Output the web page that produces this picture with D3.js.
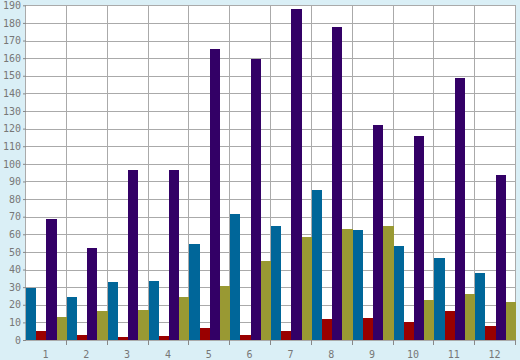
<!DOCTYPE html>
<html>
<head>
<meta charset="utf-8">
<script src="https://cdn.jsdelivr.net/npm/d3@7"></script>
<style>
html,body{margin:0;padding:0;background:#daeff6;}
svg{display:block;}
</style>
</head>
<body>
<svg id="chart" width="520" height="360"></svg>
<script>
const categories = ["1","2","3","4","5","6","7","8","9","10","11","12"];
const seriesNames = ["A","B","C","D"];
const seriesColors = ["#006699","#990000","#330066","#999933"];
const blueValues   = [29.7, 24.4, 32.9, 33.5, 54.5, 71.5, 64.7, 85.1, 62.4, 53.3, 46.5, 38.0];
const redValues    = [5.3, 2.8, 1.7, 2.3, 6.8, 2.8, 5.1, 11.9, 12.5, 10.2, 16.4, 8.0];
const purpleValues = [68.6, 52.2, 96.4, 96.4, 165.1, 159.4, 187.7, 177.5, 122.0, 115.7, 148.6, 93.6];
const oliveValues  = [13.0, 16.4, 17.0, 24.4, 30.6, 44.8, 58.4, 63.0, 64.7, 22.7, 26.1, 21.6];
const yTicks = d3.range(0, 191, 10);

const seriesValues = [blueValues, redValues, purpleValues, oliveValues];

const svg = d3.select("#chart");
const m = {left: 26, right: 4, top: 5.3, bottom: 20};
const W = 520, H = 360;
const x0 = W - m.right;
const y0 = H - m.bottom;

const x = d3.scaleBand().domain(categories).range([m.left, x0]).padding(0);
const xs = d3.scaleBand().domain(seriesNames).range([0, x.bandwidth()]).padding(0);
const y = d3.scaleLinear().domain([0, 190]).range([y0, m.top]);

// plot background
svg.append("rect").attr("x", m.left).attr("y", m.top)
  .attr("width", x0 - m.left).attr("height", y0 - m.top).attr("fill", "#ffffff");

// horizontal grid
svg.append("g").selectAll("line").data(yTicks).join("line")
  .attr("x1", m.left).attr("x2", x0)
  .attr("y1", d => Math.round(y(d)) + 0.5).attr("y2", d => Math.round(y(d)) + 0.5)
  .attr("stroke", "#aaaaaa").attr("stroke-width", 1);

// vertical grid at category boundaries
const bounds = categories.map(c => x(c)).concat([x0]);
svg.append("g").selectAll("line").data(bounds).join("line")
  .attr("x1", d => Math.round(d) - 0.5).attr("x2", d => Math.round(d) - 0.5)
  .attr("y1", m.top).attr("y2", y0)
  .attr("stroke", "#aaaaaa").attr("stroke-width", 1);

// bars
const g = svg.append("g");
categories.forEach((c, i) => {
  seriesNames.forEach((s, j) => {
    const v = seriesValues[j][i];
    g.append("rect")
      .attr("x", x(c) + xs(s))
      .attr("width", xs.bandwidth())
      .attr("y", y(v))
      .attr("height", y(0) - y(v))
      .attr("fill", seriesColors[j])
      .attr("shape-rendering", "crispEdges");
  });
});

// y axis
const yAxis = d3.axisLeft(y).tickValues(yTicks).tickSize(3).tickPadding(2).tickFormat(d3.format("d"));
const ya = svg.append("g").attr("transform", `translate(${m.left},0)`).call(yAxis);
ya.select(".domain").remove();
ya.selectAll(".tick line").attr("stroke", "#888888");
ya.selectAll("text").attr("fill", "#777777")
  .style("font-family", "DejaVu Sans Mono, monospace").style("font-size", "10px");

// x axis ticks at boundaries
svg.append("g").selectAll("line").data(bounds.slice(1)).join("line")
  .attr("x1", d => Math.round(d) - 0.5).attr("x2", d => Math.round(d) - 0.5)
  .attr("y1", y0).attr("y2", y0 + 5)
  .attr("stroke", "#888888");

// x labels
svg.append("g").selectAll("text").data(categories).join("text")
  .attr("x", d => x(d) + x.bandwidth() / 2 - 1)
  .attr("y", y0 + 17.5)
  .attr("text-anchor", "middle")
  .attr("fill", "#777777")
  .style("font-family", "DejaVu Sans Mono, monospace").style("font-size", "10px")
  .text(d => d);
</script>
</body>
</html>
